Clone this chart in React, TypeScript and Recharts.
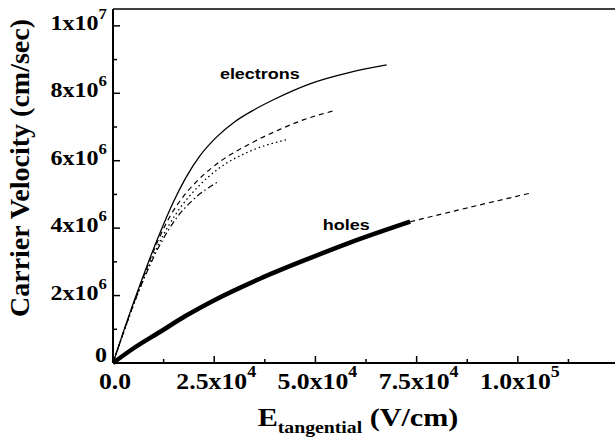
import { LineChart, Line, XAxis, YAxis, ReferenceLine, ReferenceDot } from 'recharts'

// field (V/cm) and velocity (cm/sec)
const elecSolidE = [0, 3000, 6600, 11570, 15000, 18000, 21500, 25570, 30000, 35000, 40000, 48640, 58540, 67600]
const elecSolidV = [0, 1.08e6, 2.3e6, 3.85e6, 4.8e6, 5.5e6, 6.15e6, 6.7e6, 7.15e6, 7.52e6, 7.83e6, 8.28e6, 8.62e6, 8.84e6]

const elecDashE = [0, 6600, 11570, 14020, 17310, 20620, 25570, 33800, 41220, 46990, 54830]
const elecDashV = [0, 2.25e6, 3.75e6, 4.34e6, 4.93e6, 5.38e6, 5.9e6, 6.5e6, 6.93e6, 7.21e6, 7.49e6]

const elecDotE = [0, 6600, 11570, 16000, 21440, 25570, 33800, 42710]
const elecDotV = [0, 2.2e6, 3.6e6, 4.5e6, 5.28e6, 5.72e6, 6.28e6, 6.62e6]

const elecDashDotE = [0, 6600, 11570, 15680, 19780, 25970]
const elecDashDotV = [0, 2.2e6, 3.5e6, 4.3e6, 4.84e6, 5.38e6]

const holesE = [0, 5000, 11570, 18000, 25150, 36280, 48640, 58540, 73400]
const holesV = [0, 0.43e6, 0.92e6, 1.4e6, 1.87e6, 2.5e6, 3.11e6, 3.57e6, 4.19e6]

const holesExtE = [73400, 88200, 103500]
const holesExtV = [4.19e6, 4.62e6, 5.05e6]

const xTicks = [0, 12500, 25000, 37500, 50000, 62500, 75000, 87500, 100000, 112500]
const xMajor = [0, 25000, 50000, 75000, 100000]
const xTickLabels = ['0.0', '2.5x10^4', '5.0x10^4', '7.5x10^4', '1.0x10^5']

const yTicks = [0, 1e6, 2e6, 3e6, 4e6, 5e6, 6e6, 7e6, 8e6, 9e6, 1e7]
const yMajor = [0, 2e6, 4e6, 6e6, 8e6, 1e7]
const yTickLabels = ['0', '2x10^6', '4x10^6', '6x10^6', '8x10^6', '1x10^7']

const notes = [
  { text: 'electrons', e: 26400, v: 8.42e6 },
  { text: 'holes', e: 51800, v: 3.95e6 },
]

const xMax = 124000
const yMax = 10500000

const serif = 'Liberation Serif, Times New Roman, serif'
const sans = 'Liberation Sans, Arial, sans-serif'

const zip = (es: number[], vs: number[]) => es.map((e, i) => ({ x: e, v: vs[i] }))

function TickText({ label, size, supSize, supDy, anchor }: any) {
  const [base, exp] = label.split('^')
  return (
    <text x={0} y={0} textAnchor={anchor} fontFamily={serif} fontWeight="bold" fontSize={size} fill="#000">
      <tspan>{base}</tspan>
      {exp && <tspan dy={supDy} fontSize={supSize}>{exp}</tspan>}
    </text>
  )
}

function XTick({ x, y, payload }: any) {
  const i = xMajor.indexOf(payload.value)
  const major = i >= 0
  return (
    <g>
      <line x1={x} x2={x} y1={y} y2={y - (major ? 7 : 4)} stroke="#000" strokeWidth={1.5} />
      {major && (
        <g transform={`translate(${x + 2},${y + 26}) scale(1.12,1)`}>
          <TickText label={xTickLabels[i]} size={23} supSize={16} supDy={-12} anchor="middle" />
        </g>
      )}
    </g>
  )
}

function YTick({ x, y, payload }: any) {
  const i = yMajor.indexOf(payload.value)
  const major = i >= 0
  const plain = major && !yTickLabels[i].includes('^')
  return (
    <g>
      <line x1={x} x2={x + (major ? 7 : 4)} y1={y} y2={y} stroke="#000" strokeWidth={1.5} />
      {major && (
        <g transform={`translate(${x - 6},${plain ? y - 1 : y + 4}) scale(1.2,1)`}>
          <TickText label={yTickLabels[i]} size={20} supSize={14} supDy={-11} anchor="end" />
        </g>
      )}
    </g>
  )
}

function XTitle({ viewBox }: any) {
  const cx = viewBox.x + viewBox.width / 2 - 6
  const by = viewBox.y + 63
  return (
    <g transform={`translate(${cx},${by}) scale(1.16,1)`}>
      <text x={0} y={0} textAnchor="middle" fontFamily={serif} fontWeight="bold" fontSize={26} fill="#000">
        <tspan>E</tspan>
        <tspan fontSize={17} dy={7}>tangential</tspan>
        <tspan dy={-7}> (V/cm)</tspan>
      </text>
    </g>
  )
}

function YTitle({ viewBox }: any) {
  const cy = viewBox.y + viewBox.height / 2 - 18
  return (
    <text
      transform={`translate(29,${cy}) rotate(-90)`}
      textAnchor="middle"
      fontFamily={serif}
      fontWeight="bold"
      fontSize={28}
      fill="#000"
    >
      Carrier Velocity (cm/sec)
    </text>
  )
}

function Note({ text }: { text: string }) {
  return (p: any) => (
    <g transform={`translate(${p.cx},${p.cy}) scale(1.2,1)`}>
      <text x={0} y={0} fontFamily={sans} fontWeight="bold" fontSize={15} fill="#000">{text}</text>
    </g>
  )
}

export default function App() {
  return (
    <div style={{ position: 'absolute', left: 0, top: 0, background: '#fff' }}>
      <LineChart width={615} height={437} margin={{ top: 9, right: 0, bottom: 0, left: 0 }}>
        <XAxis
          dataKey="x"
          type="number"
          domain={[0, xMax]}
          ticks={xTicks}
          interval={0}
          height={74}
          tickSize={0}
          tickMargin={0}
          tickLine={false}
          axisLine={{ stroke: '#000', strokeWidth: 2 }}
          tick={<XTick />}
          label={{ content: <XTitle /> }}
        />
        <YAxis
          type="number"
          domain={[0, yMax]}
          ticks={yTicks}
          interval={0}
          width={113}
          tickSize={0}
          tickMargin={0}
          tickLine={false}
          axisLine={{ stroke: '#000', strokeWidth: 2 }}
          tick={<YTick />}
          label={{ content: <YTitle /> }}
        />
        <ReferenceLine y={yMax} stroke="#000" strokeWidth={1.5} />
        <Line data={zip(elecSolidE, elecSolidV)} dataKey="v" type="monotone" stroke="#000" strokeWidth={1.3} dot={false} activeDot={false} isAnimationActive={false} />
        <Line data={zip(elecDashE, elecDashV)} dataKey="v" type="monotone" stroke="#000" strokeWidth={1.2} strokeDasharray="5 4" dot={false} activeDot={false} isAnimationActive={false} />
        <Line data={zip(elecDotE, elecDotV)} dataKey="v" type="monotone" stroke="#000" strokeWidth={1.3} strokeDasharray="1.5 3" dot={false} activeDot={false} isAnimationActive={false} />
        <Line data={zip(elecDashDotE, elecDashDotV)} dataKey="v" type="monotone" stroke="#000" strokeWidth={1.2} strokeDasharray="6 3 1.5 3" dot={false} activeDot={false} isAnimationActive={false} />
        <Line data={zip(holesE, holesV)} dataKey="v" type="monotone" stroke="#000" strokeWidth={4.5} dot={false} activeDot={false} isAnimationActive={false} />
        <Line data={zip(holesExtE, holesExtV)} dataKey="v" type="monotone" stroke="#000" strokeWidth={1.2} strokeDasharray="5 4" dot={false} activeDot={false} isAnimationActive={false} />
        {notes.map((n) => (
          <ReferenceDot key={n.text} x={n.e} y={n.v} r={0} shape={Note({ text: n.text })} />
        ))}
      </LineChart>
    </div>
  )
}
